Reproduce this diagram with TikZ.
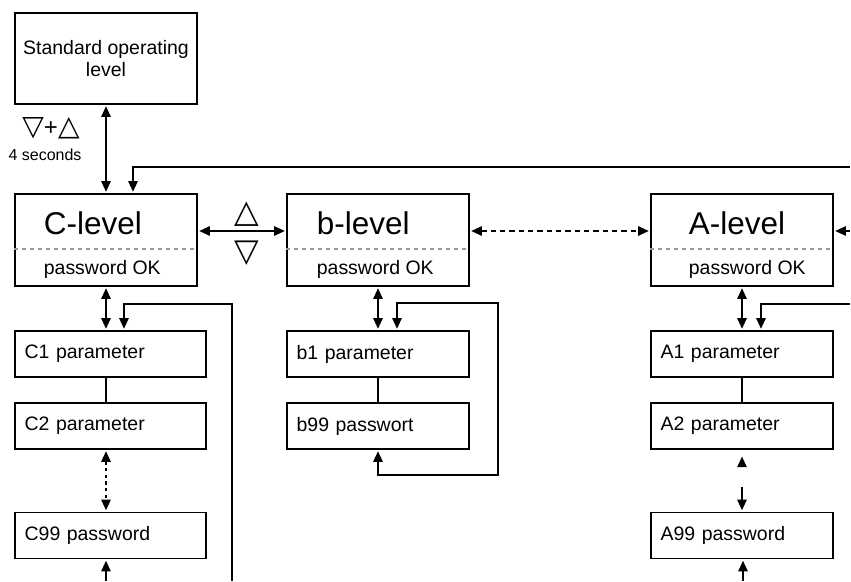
\documentclass[tikz,border=0pt]{standalone}
\usepackage{fontspec}
\setmainfont{Liberation Sans}
\newfontfamily\keyfont{DejaVu Sans}
\usetikzlibrary{arrows.meta}

\begin{document}
\begin{tikzpicture}[x=0.75pt,y=-0.75pt,>={Triangle[length=8pt,width=7pt]},line width=1.3pt,
  link/.style={shorten >=1pt,shorten <=1pt},
  std node/.style={draw,minimum width=136.5pt,minimum height=68.25pt,align=center,font=\fontsize{14.6}{16.2}\selectfont},
  level node/.style={draw,minimum width=136.5pt,minimum height=69pt,inner sep=0pt},
  param node/.style={draw,minimum height=34.5pt,text width=122pt,inner xsep=7.25pt,align=left,font=\fontsize{14.6}{17}\selectfont},
  title text/.style={anchor=west,inner sep=0pt,font=\fontsize{23.6}{28}\selectfont},
  ok text/.style={anchor=west,inner sep=0pt,font=\fontsize{14.6}{17}\selectfont},
  key text/.style={inner sep=0pt,font=\keyfont\fontsize{21}{24}\selectfont},
  split line/.style={gray!80,line width=0.8pt,dash pattern=on 3pt off 3pt}]
  \useasboundingbox (0,0) rectangle (851,582);

  \node[std node] (std) at (106,58.5) {Standard operating\\level};
  \node[key text] (keys) at (51,128) {▽{\rmfamily\fontsize{18}{20}\selectfont+}△};
  \node[inner sep=0pt,font=\fontsize{12}{14}\selectfont] (secs) at (45,155) {4 seconds};

  % level boxes
  \node[level node] (C) at (106,240) {};
  \node[level node] (b) at (378,240) {};
  \node[level node] (A) at (742,240) {};
  \foreach \n in {C,b,A}
    \draw[split line] ([yshift=-6.75pt]\n.west) -- ([yshift=-6.75pt]\n.east);
  \node[title text] (Ct) at (43,223) {C-level};
  \node[title text] (bt) at (316,223) {b-level};
  \node[title text] (At) at (688,223) {A-level};
  \node[ok text] (Cok) at (43,269) {password OK};
  \node[ok text] (bok) at (316,269) {password OK};
  \node[ok text] (Aok) at (688,269) {password OK};
  \node[key text,font=\keyfont\fontsize{24}{28}\selectfont] (up) at (247,214) {△};
  \node[key text,font=\keyfont\fontsize{24}{28}\selectfont] (down) at (247,253) {▽};

  % parameter boxes
  \node[param node,text width=128.75pt] (C1) at (110.5,354) {C1 parameter};
  \node[param node,text width=128.75pt] (C2) at (110.5,426) {C2 parameter};
  \node[param node,text width=128.75pt] (C99) at (110.5,535.5) {C99 password};
  \node[param node] (b1) at (378,354) {b1 parameter};
  \node[param node] (b99) at (378,426) {b99 passwort};
  \node[param node] (A1) at (742,354) {A1 parameter};
  \node[param node] (A2) at (742,426) {A2 parameter};
  \node[param node] (A99) at (742,535.5) {A99 password};

  % free ends at the edge
  \coordinate (topin) at (851,167);
  \coordinate (Ain) at (851,231);
  \coordinate (Aloop) at (851,304);
  \coordinate (Cloop) at (232,582);
  \coordinate (Cout) at (106,582);
  \coordinate (Aout) at (743,582);

  \draw[<->,link] (std) -- (C);
  \draw[->,link] (topin) -| ([xshift=20.25pt]C.north);
  \draw[<->,link] ([yshift=6.75pt]C.east) -- ([yshift=6.75pt]b.west);
  \draw[<->,link,dash pattern=on 4pt off 3pt] ([yshift=6.75pt]b.east) -- ([yshift=6.75pt]A.west);
  \draw[->,link] (Ain) -- ([yshift=6.75pt]A.east);

  \draw[<->,link] (C.south) -- (C.south |- C1.north);
  \draw[->,link] (Cloop) -- ++(0,-278) -| ([xshift=10.1pt]C1.north);
  \draw (C1.south -| C.south) -- (C2.north -| C.south);
  \draw[<->,link,dash pattern=on 2.5pt off 2.5pt] (C2.south -| C.south) -- (C99.north -| C.south);
  \draw[->,link] (Cout) -- (C99.south -| Cout);

  \draw[<->,link] (b.south) -- (b1.north);
  \draw[<->,link] ([xshift=14.25pt]b1.north) -- ++(0,-27) -- ++(101,0) -- ++(0,172) -| (b99.south);
  \draw (b1) -- (b99);

  \draw[<->,link] (A.south) -- (A1.north);
  \draw[->,link] (Aloop) -| ([xshift=14.25pt]A1.north);
  \draw (A1) -- (A2);
  \draw[<->,link,shorten <=5pt,dash pattern=on 0pt off 15pt on 30pt] (A2) -- (A99);
  \draw[->,link] (Aout) -- (A99.south -| Aout);
\end{tikzpicture}
\end{document}
